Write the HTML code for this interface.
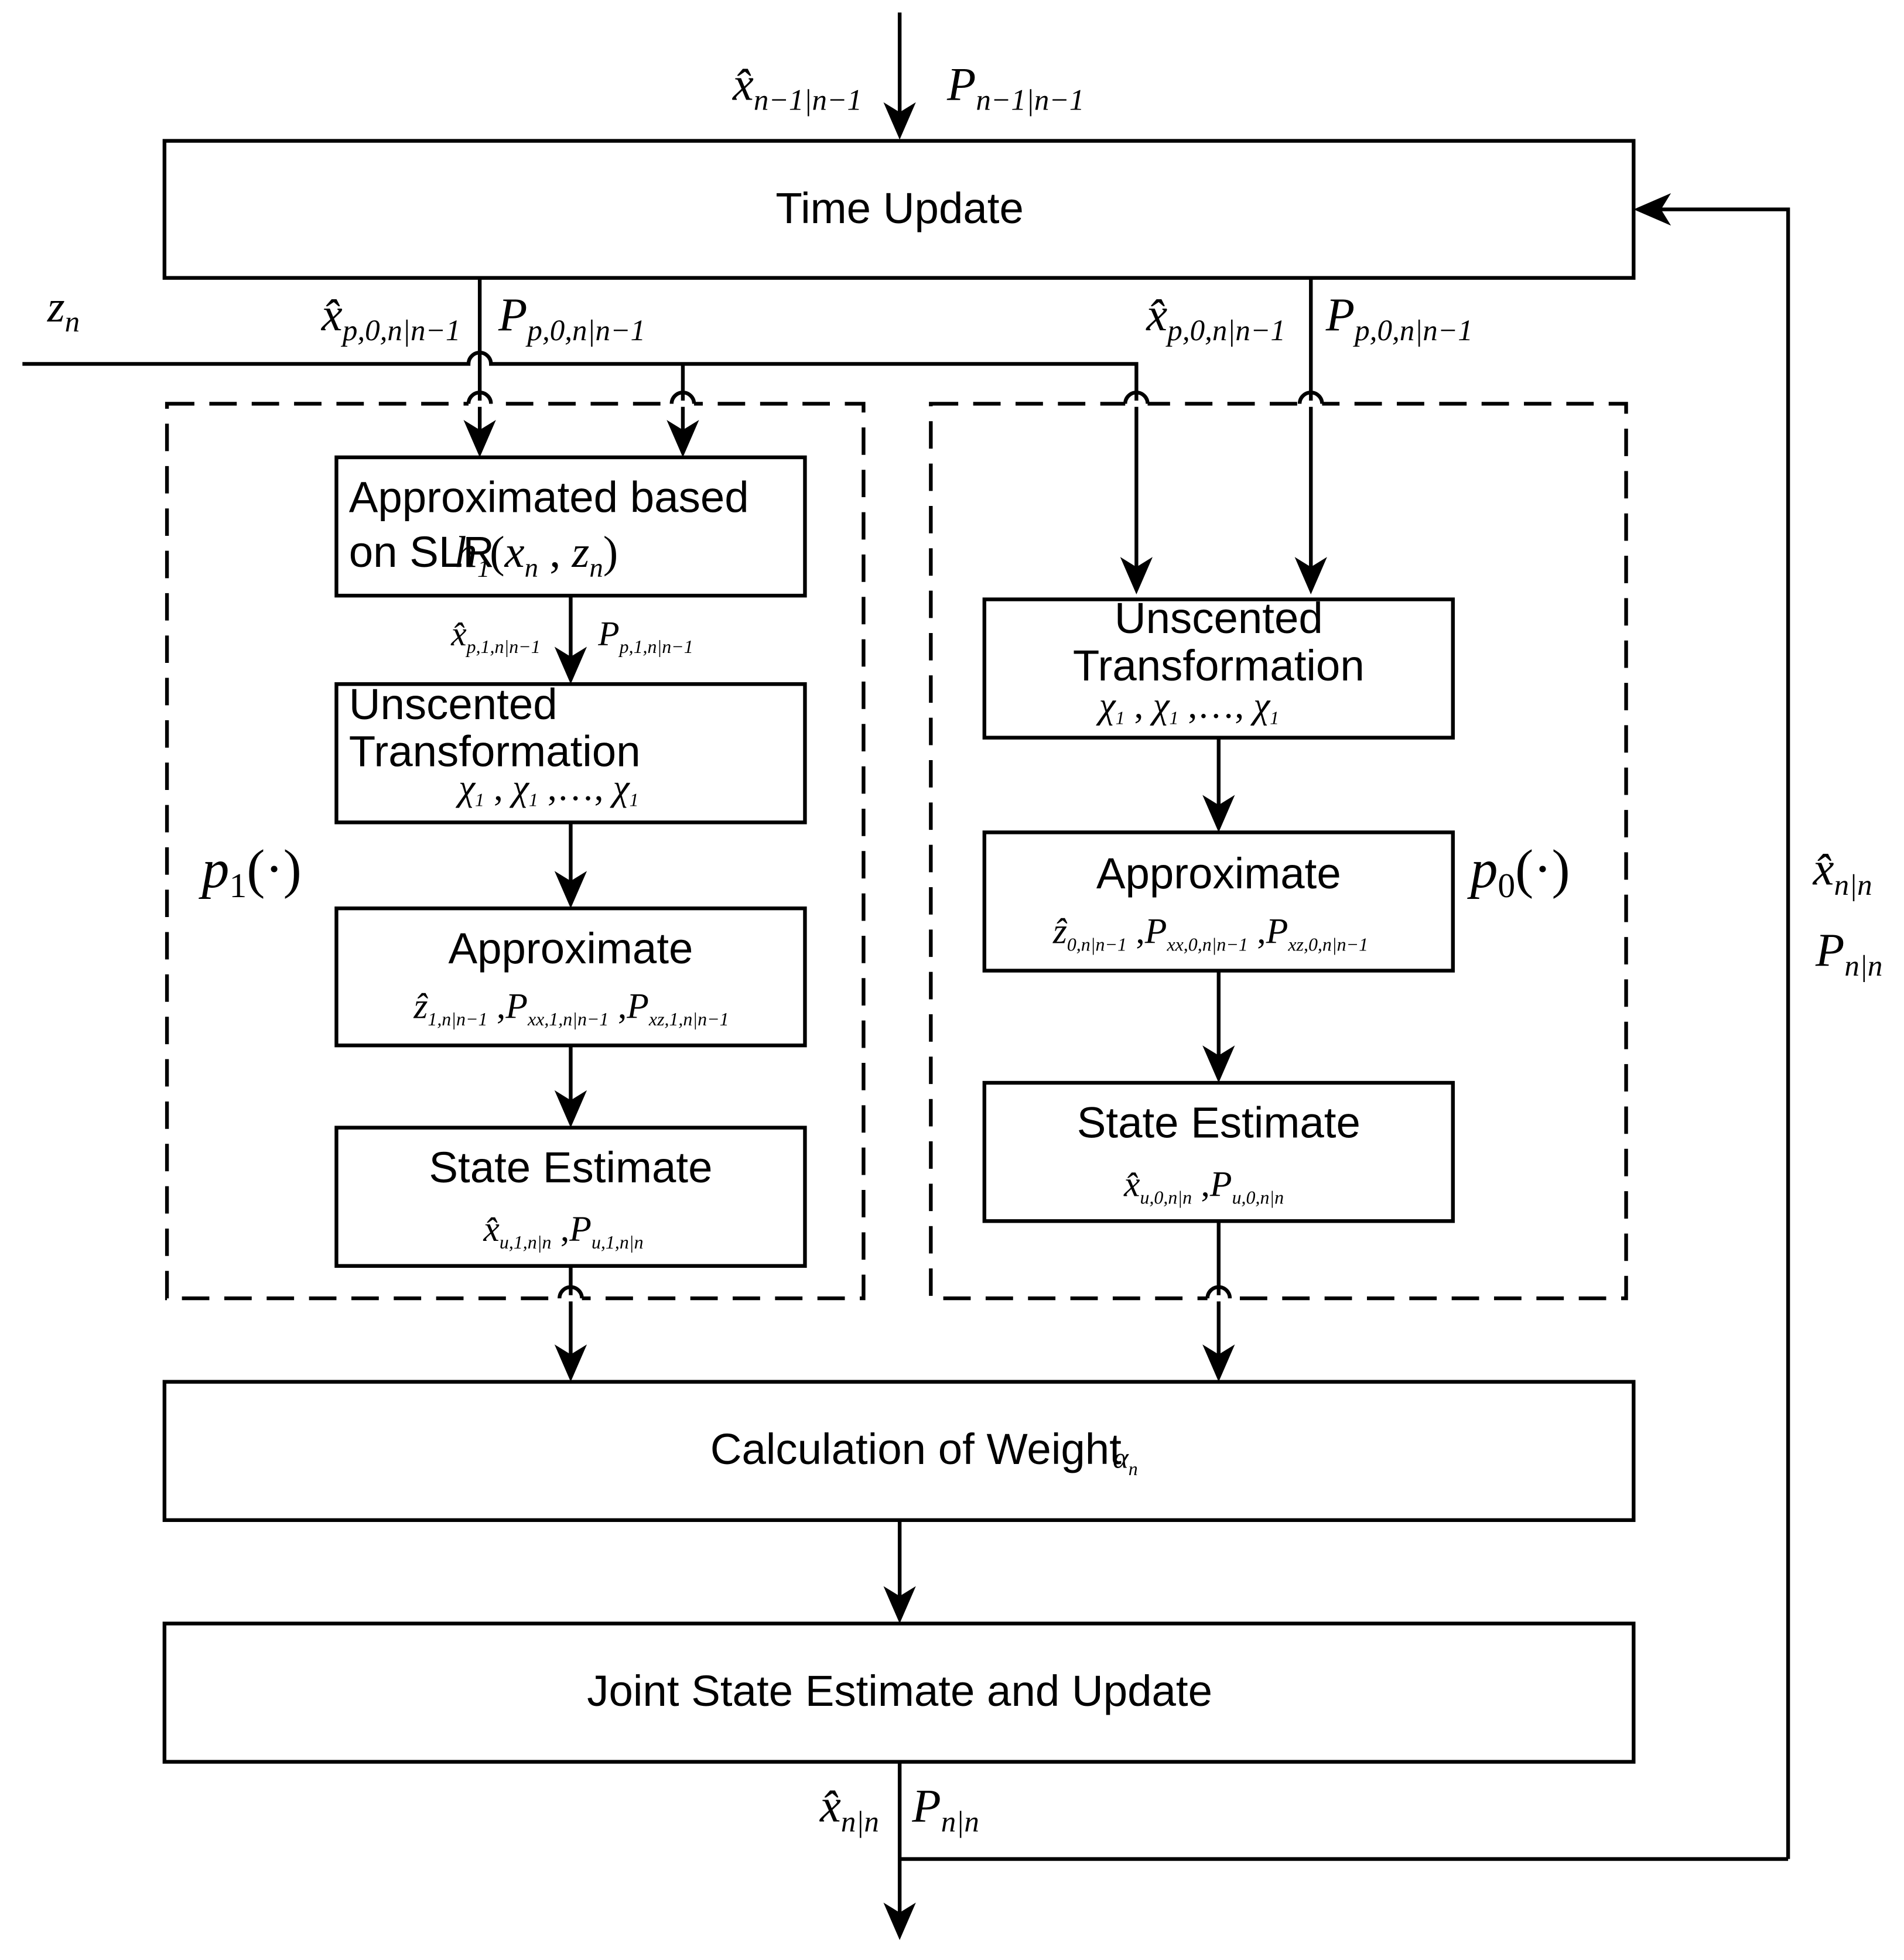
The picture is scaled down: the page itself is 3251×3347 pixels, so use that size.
<!DOCTYPE html>
<html><head><meta charset="utf-8"><style>
html,body{margin:0;padding:0;background:#fff}
svg{display:block}
.s{font-family:"Liberation Sans",sans-serif}
.m{font-family:"Liberation Serif",serif;font-style:italic}
</style></head><body>
<svg width="3251" height="3347" viewBox="0 0 1528 1573" xmlns="http://www.w3.org/2000/svg">
<g stroke="#000" stroke-width="3" fill="none">
<rect x="132" y="113" width="1179" height="110"/>
<rect x="132" y="1109" width="1179" height="111"/>
<rect x="132" y="1303" width="1179" height="111"/>
<rect x="270" y="367" width="376" height="111"/>
<rect x="270" y="549" width="376" height="111"/>
<rect x="270" y="729" width="376" height="110"/>
<rect x="270" y="905" width="376" height="111"/>
<rect x="790" y="481" width="376" height="111"/>
<rect x="790" y="668" width="376" height="111"/>
<rect x="790" y="869" width="376" height="111"/>
<rect x="134" y="324" width="559" height="718" stroke-dasharray="22,12"/>
<rect x="747" y="324" width="558" height="718" stroke-dasharray="22,12"/>
<path d="M722 10V100"/>
<path d="M1435 1492V168H1325"/>
<path d="M722 1414V1545M722 1492H1435"/>
<path d="M18 292H376a9 9 0 0 1 18 0H912V465"/>
<path d="M548 292V355"/>
<path d="M385 223V355"/>
<path d="M1052 223V465"/>
<path d="M458 478V537M458 660V717M458 839V893M458 1016V1097"/>
<path d="M978 592V656M978 779V857M978 980V1097"/>
<path d="M722 1220V1291"/>
</g>
<g stroke="#fff" stroke-width="5">
<path d="M376 324H394M539 324H557M903 324H921M1043 324H1061M449 1042H467M969 1042H987"/>
</g>
<g stroke="#000" stroke-width="3" fill="none">
<path d="M376 324a9 9 0 0 1 18 0M539 324a9 9 0 0 1 18 0M903 324a9 9 0 0 1 18 0M1043 324a9 9 0 0 1 18 0M449 1042a9 9 0 0 1 18 0M969 1042a9 9 0 0 1 18 0"/>
</g>
<g fill="#000">
<path d="M722 112l-13-30l13 8l13-8z"/>
<path d="M385 367l-13-30l13 8l13-8z"/>
<path d="M548 367l-13-30l13 8l13-8z"/>
<path d="M912 477l-13-30l13 8l13-8z"/>
<path d="M1052 477l-13-30l13 8l13-8z"/>
<path d="M458 549l-13-30l13 8l13-8z"/>
<path d="M458 729l-13-30l13 8l13-8z"/>
<path d="M458 905l-13-30l13 8l13-8z"/>
<path d="M458 1109l-13-30l13 8l13-8z"/>
<path d="M978 668l-13-30l13 8l13-8z"/>
<path d="M978 869l-13-30l13 8l13-8z"/>
<path d="M978 1109l-13-30l13 8l13-8z"/>
<path d="M722 1303l-13-30l13 8l13-8z"/>
<path d="M722 1557l-13-30l13 8l13-8z"/>
<path d="M1311 168l30-13l-8 13l8 13z"/>
</g>
<g class="s" font-size="35" text-anchor="middle">
<text x="722" y="179">Time Update</text>
<text x="735" y="1175">Calculation of Weight</text>
<text x="722" y="1369">Joint State Estimate and Update</text>
<text x="458" y="949">State Estimate</text>
<text x="458" y="773">Approximate</text>
<text x="978" y="913">State Estimate</text>
<text x="978" y="713">Approximate</text>
<text x="978" y="508">Unscented</text>
<text x="978" y="546">Transformation</text>
</g>
<g class="s" font-size="35">
<text x="280" y="411">Approximated based</text>
<text x="280" y="455">on SLR</text>
<text x="280" y="577">Unscented</text>
<text x="280" y="615">Transformation</text>
</g>
<g class="m" fill="#000">
<text x="365" y="455" font-size="36">h<tspan font-size="20" dy="8">1</tspan><tspan dy="-8" font-style="normal">(</tspan>x<tspan font-size="22" dy="8">n</tspan><tspan dy="-8" font-style="normal"> , </tspan>z<tspan font-size="22" dy="8">n</tspan><tspan dy="-8" font-style="normal">)</tspan></text>
<text x="588" y="80" font-size="38">x̂<tspan font-size="24" dy="8">n−1|n−1</tspan></text>
<text x="760" y="80" font-size="38">P<tspan font-size="24" dy="8">n−1|n−1</tspan></text>
<text x="38" y="258" font-size="36">z<tspan font-size="24" dy="8">n</tspan></text>
<text x="258" y="265" font-size="38">x̂<tspan font-size="24" dy="8">p,0,n|n−1</tspan></text>
<text x="400" y="265" font-size="38">P<tspan font-size="24" dy="8">p,0,n|n−1</tspan></text>
<text x="920" y="265" font-size="38">x̂<tspan font-size="24" dy="8">p,0,n|n−1</tspan></text>
<text x="1064" y="265" font-size="38">P<tspan font-size="24" dy="8">p,0,n|n−1</tspan></text>
<text x="362" y="518" font-size="28">x̂<tspan font-size="15" dy="6">p,1,n|n−1</tspan></text>
<text x="480" y="518" font-size="28">P<tspan font-size="15" dy="6">p,1,n|n−1</tspan></text>
<text x="368" y="642" font-size="30">χ<tspan font-size="15" dy="5">1</tspan><tspan dy="-5" font-style="normal"> , </tspan>χ<tspan font-size="15" dy="5">1</tspan><tspan dy="-5" font-style="normal"> ,…, </tspan>χ<tspan font-size="15" dy="5">1</tspan></text>
<text x="882" y="576" font-size="30">χ<tspan font-size="15" dy="5">1</tspan><tspan dy="-5" font-style="normal"> , </tspan>χ<tspan font-size="15" dy="5">1</tspan><tspan dy="-5" font-style="normal"> ,…, </tspan>χ<tspan font-size="15" dy="5">1</tspan></text>
<text x="332" y="817" font-size="29">ẑ<tspan font-size="15" dy="6">1,n|n−1</tspan><tspan dy="-6" font-style="normal"> ,</tspan>P<tspan font-size="15" dy="6">xx,1,n|n−1</tspan><tspan dy="-6" font-style="normal"> ,</tspan>P<tspan font-size="15" dy="6">xz,1,n|n−1</tspan></text>
<text x="845" y="757" font-size="29">ẑ<tspan font-size="15" dy="6">0,n|n−1</tspan><tspan dy="-6" font-style="normal"> ,</tspan>P<tspan font-size="15" dy="6">xx,0,n|n−1</tspan><tspan dy="-6" font-style="normal"> ,</tspan>P<tspan font-size="15" dy="6">xz,0,n|n−1</tspan></text>
<text x="388" y="996" font-size="29">x̂<tspan font-size="15" dy="6">u,1,n|n</tspan><tspan dy="-6" font-style="normal"> ,</tspan>P<tspan font-size="15" dy="6">u,1,n|n</tspan></text>
<text x="902" y="960" font-size="29">x̂<tspan font-size="15" dy="6">u,0,n|n</tspan><tspan dy="-6" font-style="normal"> ,</tspan>P<tspan font-size="15" dy="6">u,0,n|n</tspan></text>
<text x="893" y="1178" font-size="24">α<tspan font-size="15" dy="6">n</tspan></text>
<text x="162" y="712" font-size="44">p<tspan font-size="28" dy="8" font-style="normal">1</tspan><tspan dy="-8" font-style="normal">(·)</tspan></text>
<text x="1180" y="712" font-size="44">p<tspan font-size="28" dy="8" font-style="normal">0</tspan><tspan dy="-8" font-style="normal">(·)</tspan></text>
<text x="1455" y="710" font-size="38">x̂<tspan font-size="24" dy="8">n|n</tspan></text>
<text x="1457" y="775" font-size="38">P<tspan font-size="24" dy="8">n|n</tspan></text>
<text x="658" y="1462" font-size="38">x̂<tspan font-size="24" dy="8">n|n</tspan></text>
<text x="732" y="1462" font-size="38">P<tspan font-size="24" dy="8">n|n</tspan></text>
</g>
</svg>
</body></html>
